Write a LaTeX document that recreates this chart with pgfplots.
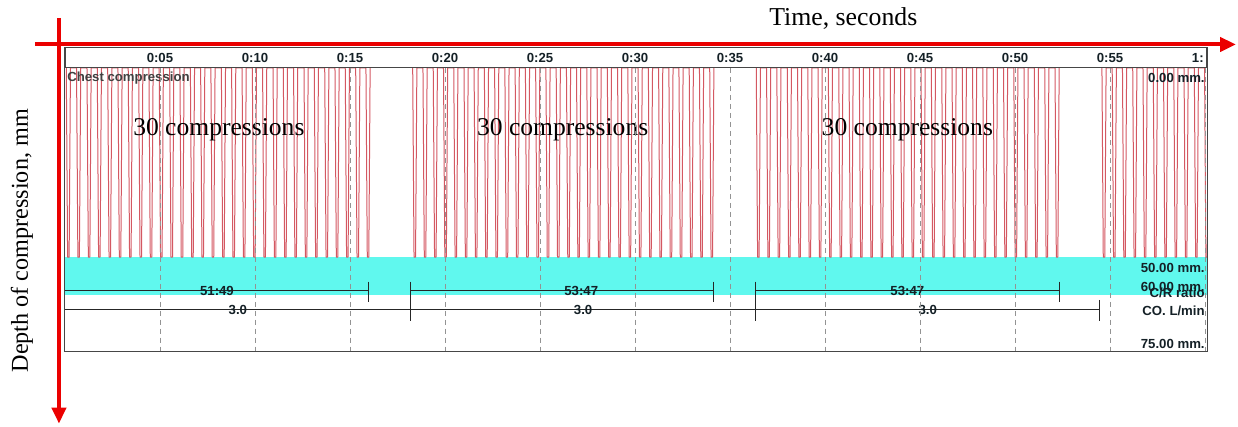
\documentclass[border=0pt]{standalone}
\usepackage{fontspec}
\setmainfont{Liberation Serif}
\newfontfamily\uifont{Liberation Sans}
\usepackage{pgfplots}
\pgfplotsset{compat=1.18}
\usetikzlibrary{arrows.meta}
\definecolor{cpr}{RGB}{212,88,98}
\definecolor{band}{RGB}{96,248,238}
\definecolor{uitext}{RGB}{20,32,38}
\definecolor{frame}{RGB}{70,70,70}
\definecolor{annot}{RGB}{235,0,0}
\newcommand{\ui}{\uifont\bfseries\fontsize{6.6}{7.6}\selectfont}
\begin{document}
\begin{tikzpicture}
\begin{scope}[x=0.5pt,y=-0.5pt]
\path[use as bounding box] (0,0) rectangle (1238,427);
\end{scope}
\begin{axis}[
 at={(318.25pt,-105pt)}, anchor=center,
 scale only axis, width=571.5pt, height=142pt,
 xmin=0, xmax=60.1, ymin=0, ymax=75, y dir=reverse,
 axis on top,
 axis line style={frame, line width=0.5pt},
 xtick={5,10,...,60},
 xticklabels={0:05,0:10,0:15,0:20,0:25,0:30,0:35,0:40,0:45,0:50,0:55,{1:\phantom{00}}},
 xticklabel pos=upper,
 xticklabel style={font=\ui, text=uitext, anchor=center, yshift=5pt},
 ytick=\empty,
 major tick length=0pt,
 xmajorgrids,
 grid style={gray!85, dash pattern=on 2.5pt off 2pt, line width=0.4pt},
]
% target band 50-60 mm
\addplot[draw=none, fill=band] coordinates {(0,50) (60.1,50) (60.1,60) (0,60) (0,50)};
% compressions (depth in mm)
\addplot[cpr, line width=0.5pt, line join=round] coordinates {
(0.07,0)(0.14,50)(0.22,50)(0.29,0)
(0.61,0)(0.68,50)(0.76,50)(0.83,0)
(1.16,0)(1.23,50)(1.31,50)(1.38,0)
(1.70,0)(1.77,50)(1.85,50)(1.92,0)
(2.25,0)(2.32,50)(2.40,50)(2.47,0)
(2.79,0)(2.86,50)(2.94,50)(3.01,0)
(3.33,0)(3.40,50)(3.48,50)(3.55,0)
(3.88,0)(3.95,50)(4.03,50)(4.10,0)
(4.42,0)(4.49,50)(4.57,50)(4.64,0)
(4.96,0)(5.03,50)(5.11,50)(5.18,0)
(5.51,0)(5.58,50)(5.66,50)(5.73,0)
(6.05,0)(6.12,50)(6.20,50)(6.27,0)
(6.60,0)(6.67,50)(6.75,50)(6.82,0)
(7.14,0)(7.21,50)(7.29,50)(7.36,0)
(7.68,0)(7.75,50)(7.83,50)(7.90,0)
(8.23,0)(8.30,50)(8.38,50)(8.45,0)
(8.77,0)(8.84,50)(8.92,50)(8.99,0)
(9.32,0)(9.39,50)(9.47,50)(9.54,0)
(9.86,0)(9.93,50)(10.01,50)(10.08,0)
(10.40,0)(10.47,50)(10.55,50)(10.62,0)
(10.95,0)(11.02,50)(11.10,50)(11.17,0)
(11.49,0)(11.56,50)(11.64,50)(11.71,0)
(12.03,0)(12.10,50)(12.18,50)(12.25,0)
(12.58,0)(12.65,50)(12.73,50)(12.80,0)
(13.12,0)(13.19,50)(13.27,50)(13.34,0)
(13.67,0)(13.74,50)(13.82,50)(13.89,0)
(14.21,0)(14.28,50)(14.36,50)(14.43,0)
(14.75,0)(14.82,50)(14.90,50)(14.97,0)
(15.30,0)(15.37,50)(15.45,50)(15.52,0)
(15.84,0)(15.91,50)(15.99,50)(16.06,0)
};
\addplot[cpr, line width=0.5pt, line join=round] coordinates {
(18.30,0)(18.37,50)(18.45,50)(18.52,0)
(18.84,0)(18.91,50)(18.99,50)(19.06,0)
(19.38,0)(19.45,50)(19.53,50)(19.60,0)
(19.92,0)(19.99,50)(20.07,50)(20.14,0)
(20.46,0)(20.53,50)(20.61,50)(20.68,0)
(21.00,0)(21.07,50)(21.15,50)(21.22,0)
(21.53,0)(21.60,50)(21.68,50)(21.75,0)
(22.07,0)(22.14,50)(22.22,50)(22.29,0)
(22.61,0)(22.68,50)(22.76,50)(22.83,0)
(23.15,0)(23.22,50)(23.30,50)(23.37,0)
(23.69,0)(23.76,50)(23.84,50)(23.91,0)
(24.23,0)(24.30,50)(24.38,50)(24.45,0)
(24.77,0)(24.84,50)(24.92,50)(24.99,0)
(25.31,0)(25.38,50)(25.46,50)(25.53,0)
(25.85,0)(25.92,50)(26.00,50)(26.07,0)
(26.39,0)(26.46,50)(26.54,50)(26.61,0)
(26.92,0)(26.99,50)(27.07,50)(27.14,0)
(27.46,0)(27.53,50)(27.61,50)(27.68,0)
(28.00,0)(28.07,50)(28.15,50)(28.22,0)
(28.54,0)(28.61,50)(28.69,50)(28.76,0)
(29.08,0)(29.15,50)(29.23,50)(29.30,0)
(29.62,0)(29.69,50)(29.77,50)(29.84,0)
(30.16,0)(30.23,50)(30.31,50)(30.38,0)
(30.70,0)(30.77,50)(30.85,50)(30.92,0)
(31.24,0)(31.31,50)(31.39,50)(31.46,0)
(31.78,0)(31.85,50)(31.93,50)(32.00,0)
(32.31,0)(32.38,50)(32.46,50)(32.53,0)
(32.85,0)(32.92,50)(33.00,50)(33.07,0)
(33.39,0)(33.46,50)(33.54,50)(33.61,0)
(33.93,0)(34.00,50)(34.08,50)(34.15,0)
};
\addplot[cpr, line width=0.5pt, line join=round] coordinates {
(36.38,0)(36.45,50)(36.53,50)(36.60,0)
(36.92,0)(36.99,50)(37.07,50)(37.14,0)
(37.46,0)(37.53,50)(37.61,50)(37.68,0)
(38.01,0)(38.08,50)(38.16,50)(38.23,0)
(38.55,0)(38.62,50)(38.70,50)(38.77,0)
(39.09,0)(39.16,50)(39.24,50)(39.31,0)
(39.63,0)(39.70,50)(39.78,50)(39.85,0)
(40.17,0)(40.24,50)(40.32,50)(40.39,0)
(40.72,0)(40.79,50)(40.87,50)(40.94,0)
(41.26,0)(41.33,50)(41.41,50)(41.48,0)
(41.80,0)(41.87,50)(41.95,50)(42.02,0)
(42.34,0)(42.41,50)(42.49,50)(42.56,0)
(42.88,0)(42.95,50)(43.03,50)(43.10,0)
(43.43,0)(43.50,50)(43.58,50)(43.65,0)
(43.97,0)(44.04,50)(44.12,50)(44.19,0)
(44.51,0)(44.58,50)(44.66,50)(44.73,0)
(45.05,0)(45.12,50)(45.20,50)(45.27,0)
(45.59,0)(45.66,50)(45.74,50)(45.81,0)
(46.14,0)(46.21,50)(46.29,50)(46.36,0)
(46.68,0)(46.75,50)(46.83,50)(46.90,0)
(47.22,0)(47.29,50)(47.37,50)(47.44,0)
(47.76,0)(47.83,50)(47.91,50)(47.98,0)
(48.30,0)(48.37,50)(48.45,50)(48.52,0)
(48.85,0)(48.92,50)(49.00,50)(49.07,0)
(49.39,0)(49.46,50)(49.54,50)(49.61,0)
(49.93,0)(50.00,50)(50.08,50)(50.15,0)
(50.47,0)(50.54,50)(50.62,50)(50.69,0)
(51.01,0)(51.08,50)(51.16,50)(51.23,0)
(51.56,0)(51.63,50)(51.71,50)(51.78,0)
(52.10,0)(52.17,50)(52.25,50)(52.32,0)
};
\addplot[cpr, line width=0.5pt, line join=round] coordinates {
(54.57,0)(54.64,50)(54.72,50)(54.79,0)
(55.11,0)(55.18,50)(55.26,50)(55.33,0)
(55.65,0)(55.72,50)(55.80,50)(55.87,0)
(56.19,0)(56.26,50)(56.34,50)(56.41,0)
(56.73,0)(56.80,50)(56.88,50)(56.95,0)
(57.27,0)(57.34,50)(57.42,50)(57.49,0)
(57.81,0)(57.88,50)(57.96,50)(58.03,0)
(58.35,0)(58.42,50)(58.50,50)(58.57,0)
(58.89,0)(58.96,50)(59.04,50)(59.11,0)
(59.43,0)(59.50,50)(59.58,50)(59.65,0)
(59.97,0)(60.04,50)(60.12,50)(60.19,0)
};
% C/R ratio bars
\addplot[black!85, line width=0.5pt] coordinates {(0,58.9) (16.0,58.9)};
\addplot[black!85, line width=0.5pt] coordinates {(16.0,56.5) (16.0,61.8)};
\addplot[black!85, line width=0.5pt] coordinates {(18.2,58.9) (34.13,58.9)};
\addplot[black!85, line width=0.5pt] coordinates {(34.13,56.5) (34.13,61.8)};
\addplot[black!85, line width=0.5pt] coordinates {(36.34,58.9) (52.32,58.9)};
\addplot[black!85, line width=0.5pt] coordinates {(52.32,56.5) (52.32,61.8)};
% CO bars
\addplot[black!85, line width=0.5pt] coordinates {(0,63.9) (54.46,63.9)};
\addplot[black!85, line width=0.5pt] coordinates {(18.2,56.5) (18.2,66.8)};
\addplot[black!85, line width=0.5pt] coordinates {(36.34,56.5) (36.34,66.8)};
\addplot[black!85, line width=0.5pt] coordinates {(54.46,61.3) (54.46,66.8)};
% bar labels
\node[font=\ui, text=uitext] at (axis cs:8.0,58.9) {51:49};
\node[font=\ui, text=uitext] at (axis cs:27.17,58.9) {53:47};
\node[font=\ui, text=uitext] at (axis cs:44.33,58.9) {53:47};
\node[font=\ui, text=uitext] at (axis cs:9.1,63.9) {3.0};
\node[font=\ui, text=uitext] at (axis cs:27.27,63.9) {3.0};
\node[font=\ui, text=uitext] at (axis cs:45.4,63.9) {3.0};
% right labels
\node[font=\ui, text=uitext, anchor=east, inner sep=0.5pt] at (axis cs:60.05,2.64) {0.00 mm.};
\node[font=\ui, text=uitext, anchor=east, inner sep=0.5pt] at (axis cs:60.05,52.8) {50.00 mm.};
\node[font=\ui, text=uitext, anchor=east, inner sep=0.5pt] at (axis cs:60.05,57.8) {60.00 mm.};
\node[font=\ui, text=uitext, anchor=east, inner sep=0.5pt] at (axis cs:60.05,59.4) {C/R ratio};
\node[font=\ui, text=uitext, anchor=east, inner sep=0.5pt] at (axis cs:60.05,64.2) {CO. L/min};
\node[font=\ui, text=uitext, anchor=east, inner sep=0.5pt] at (axis cs:60.05,73.0) {75.00 mm.};
\node[font=\ui, text=black!75, anchor=west, inner sep=0.5pt] at (axis cs:0.05,2.64) {Chest compression};
% annotations
\node[font=\fontsize{12.8}{14}\selectfont] at (axis cs:8.1,16.3) {30 compressions};
\node[font=\fontsize{12.8}{14}\selectfont] at (axis cs:26.19,16.3) {30 compressions};
\node[font=\fontsize{12.8}{14}\selectfont] at (axis cs:44.33,16.3) {30 compressions};
\end{axis}
\begin{scope}[x=0.5pt,y=-0.5pt]
\draw[frame, line width=0.6pt] (65,68) -- (65,47.5) -- (1208,47.5) -- (1208,68);
\draw[annot, line width=2pt, -{Triangle[length=8pt,width=7pt]}] (35,44.5) -- (1237,44.5);
\draw[annot, line width=2pt, -{Triangle[length=8pt,width=7pt]}] (59,18) -- (59,424);
\node[font=\fontsize{12.9}{14}\selectfont] at (844,19) {Time, seconds};
\node[rotate=90, font=\fontsize{12.1}{14}\selectfont] at (22,241) {Depth of compression, mm};
\end{scope}
\end{tikzpicture}
\end{document}
